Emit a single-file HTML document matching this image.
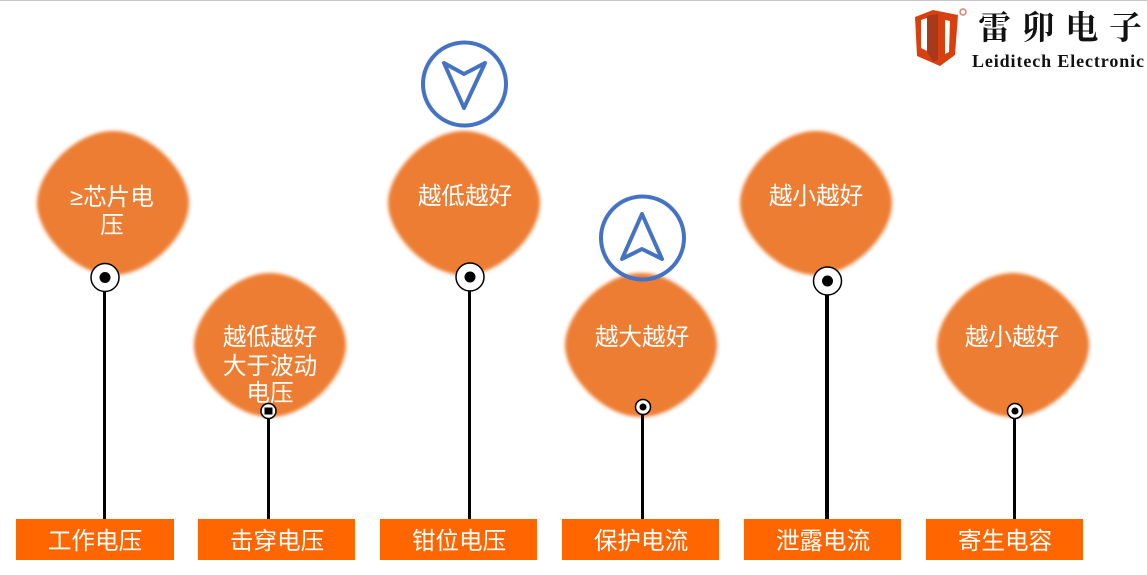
<!DOCTYPE html>
<html lang="zh">
<head>
<meta charset="utf-8">
<style>
html,body{margin:0;padding:0;background:#fff;width:1147px;height:575px;overflow:hidden}
svg{display:block}
text{font-family:"Liberation Sans","Noto Sans CJK SC",sans-serif}
.t{fill:#fff;font-size:23.6px;text-anchor:middle}
.l{fill:#fff;font-size:23.6px;text-anchor:middle}
.r{fill:#ff6600}
.v{stroke:#000;stroke-width:3;fill:none}
.c{fill:#fff;stroke:#000;stroke-width:1.5}
.nav{fill:none;stroke:#4472c4;stroke-width:4;stroke-linejoin:round}
.logo{fill:#111;font-family:"Liberation Serif","Noto Serif CJK SC",serif}
</style>
</head>
<body>
<svg width="1147" height="575" viewBox="0 0 1147 575" xmlns="http://www.w3.org/2000/svg">
<defs>
<filter id="b" x="-10%" y="-10%" width="120%" height="120%"><feGaussianBlur stdDeviation="1.8"/></filter>
<path id="blob" d="M0,-72 C38,-72 76,-31 76,0 C76,31 38,72 0,72 C-38,72 -76,31 -76,0 C-76,-31 -38,-72 0,-72Z" fill="#ed7d31" filter="url(#b)"/>
</defs>
<rect x="0" y="0" width="1147" height="1" fill="#c8c8d0"/>

<use href="#blob" x="113" y="203"/>
<use href="#blob" x="270" y="345"/>
<use href="#blob" x="464" y="203"/>
<use href="#blob" x="641" y="345"/>
<use href="#blob" x="816" y="203"/>
<use href="#blob" x="1013" y="345"/>

<text class="t" x="112" y="205">≥芯片电</text>
<text class="t" x="112" y="233">压</text>
<text class="t" x="270" y="345">越低越好</text>
<text class="t" x="270" y="374">大于波动</text>
<text class="t" x="270" y="401">电压</text>
<text class="t" x="465" y="204">越低越好</text>
<text class="t" x="642" y="345">越大越好</text>
<text class="t" x="816" y="204">越小越好</text>
<text class="t" x="1012" y="345">越小越好</text>

<line class="v" x1="104.500" y1="290" x2="104.500" y2="519"/>
<line class="v" x1="268.500" y1="416" x2="268.500" y2="519"/>
<line class="v" x1="469.500" y1="290" x2="469.500" y2="519"/>
<line class="v" x1="642.500" y1="412" x2="642.500" y2="519"/>
<line class="v" x1="827" y1="294" x2="827" y2="521" style="stroke-width:4"/>
<line class="v" x1="1014.500" y1="416" x2="1014.500" y2="519"/>

<circle class="c" cx="105" cy="277.500" r="14"/><circle cx="105" cy="277.500" r="5.500"/>
<circle class="c" cx="268.500" cy="411" r="7.500"/><rect x="264.500" y="407.500" width="8" height="7"/>
<circle class="c" cx="470" cy="277" r="14"/><circle cx="470" cy="277" r="5.500"/>
<circle class="c" cx="643" cy="407" r="7.500"/><circle cx="643" cy="407" r="3.500"/>
<circle class="c" cx="827.500" cy="281" r="14"/><circle cx="827.500" cy="281" r="5.500"/>
<circle class="c" cx="1015" cy="411" r="7.500"/><circle cx="1015" cy="411" r="3.500"/>

<circle class="nav" cx="464.500" cy="84" r="41.500"/>
<path class="nav" d="M444,63 L464,74 L485,63 L464,108Z"/>
<circle class="nav" cx="642.500" cy="238" r="41.500"/>
<path class="nav" d="M642,214 L662,259 L642,249 L622,259Z"/>

<rect class="r" x="16" y="519" width="158" height="41"/>
<rect class="r" x="198" y="519" width="157" height="41"/>
<rect class="r" x="380" y="519" width="157" height="41"/>
<rect class="r" x="562" y="519" width="157" height="41"/>
<rect class="r" x="744" y="519" width="157" height="41"/>
<rect class="r" x="926" y="519" width="157" height="41"/>
<text class="l" x="95" y="549">工作电压</text>
<text class="l" x="277" y="549">击穿电压</text>
<text class="l" x="459" y="549">钳位电压</text>
<text class="l" x="641" y="549">保护电流</text>
<text class="l" x="823" y="549">泄露电流</text>
<text class="l" x="1005" y="549">寄生电容</text>

<g>
<path d="M915,17 L933,10 L958,15 L955,55 L940,66 L917,56Z" fill="#d9400f"/>
<path d="M921,20 L927,18 L927,51 L921,48Z" fill="#fff"/>
<path d="M927,16 L938,14 L938,60 L933,62 L927,52Z" fill="#a83a1c"/>
<path d="M945,20 L950,21 L949,52 L945,54Z" fill="#fff"/>
<circle cx="963" cy="12" r="3" fill="none" stroke="#e08070" stroke-width="1.500"/>
<text class="logo" x="978" y="39" font-size="33" font-weight="bold" textLength="164" lengthAdjust="spacing">雷卯电子</text>
<text class="logo" x="972" y="67" font-size="18" font-weight="bold" textLength="172" lengthAdjust="spacing">Leiditech Electronic</text>
</g>
</svg>
</body>
</html>
